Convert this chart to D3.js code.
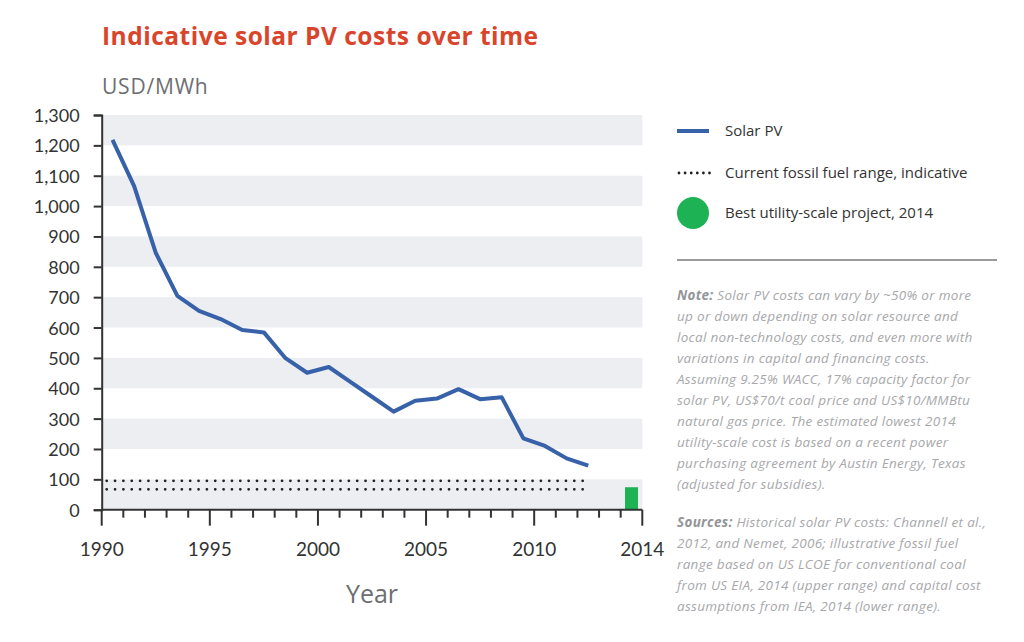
<!DOCTYPE html>
<html>
<head>
<meta charset="utf-8">
<script src="https://cdn.jsdelivr.net/npm/d3@7"></script>
<style>
  body { margin: 0; background: #fff; }
  svg { display: block; font-family: "Open Sans", Lato, sans-serif; }
</style>
</head>
<body>
<div id="chartContainer"></div>
<script>
// solar PV cost chart
const years = [1990, 1991, 1992, 1993, 1994, 1995, 1996, 1997, 1998, 1999, 2000, 2001,
               2002, 2003, 2004, 2005, 2006, 2007, 2008, 2009, 2010, 2011, 2012];
const solarCost = [1218, 1066, 846, 704, 655, 628, 592, 584, 499, 451, 470, 421,
                   372, 323, 359, 366, 397, 364, 370, 235, 210, 169, 145];
const fossilRange = [95, 67];          // upper, lower (USD/MWh)
const fossilYears = [1990, 2012];
const bestProject = { year: 2014, value: 74 };
const yTicks = [0, 100, 200, 300, 400, 500, 600, 700, 800, 900, 1000, 1100, 1200, 1300];
const xLabels = [[1990, "1990"], [1995, "1995"], [2000, "2000"], [2005, "2005"], [2010, "2010"], [2015, "2014"]];
const noteLines = [
  "Solar PV costs can vary by ~50% or more",
  "up or down depending on solar resource and",
  "local non-technology costs, and even more with",
  "variations in capital and financing costs.",
  "Assuming 9.25% WACC, 17% capacity factor for",
  "solar PV, US$70/t coal price and US$10/MMBtu",
  "natural gas price. The estimated lowest 2014",
  "utility-scale cost is based on a recent power",
  "purchasing agreement by Austin Energy, Texas",
  "(adjusted for subsidies)."
];
const sourceLines = [
  "Historical solar PV costs: Channell et al.,",
  "2012, and Nemet, 2006; illustrative fossil fuel",
  "range based on US LCOE for conventional coal",
  "from US EIA, 2014 (upper range) and capital cost",
  "assumptions from IEA, 2014 (lower range)."
];

const fullWidth = 1024, fullHeight = 642;
const plot = { left: 101.7, right: 642.3, top: 115, bottom: 509.7 };
const blue = "#3761a8", green = "#1db254", axisCol = "#333";

const svg = d3.select("#chartContainer").append("svg")
    .attr("width", fullWidth)
    .attr("height", fullHeight);

const x = d3.scaleLinear().domain([1990, 2015]).range([plot.left, plot.right]);
const y = d3.scaleLinear().domain([0, 1300]).range([plot.bottom, plot.top]);

// title
svg.append("text")
    .attr("x", 102).attr("y", 45)
    .attr("fill", "#d9452b")
    .style("font-size", "24.5px").style("font-weight", "bold")
    .style("letter-spacing", "0.5px")
    .text("Indicative solar PV costs over time");
svg.append("text")
    .attr("x", 102).attr("y", 94)
    .attr("fill", "#6d6e71")
    .style("font-size", "21px")
    .style("letter-spacing", "0.8px")
    .text("USD/MWh");

// grey bands
const bands = yTicks.filter(d => d < 1300 && (d / 100) % 2 === 0);
svg.append("g").selectAll("rect")
    .data(bands)
    .join("rect")
      .attr("x", x(1990))
      .attr("width", x(2015) - x(1990))
      .attr("y", d => y(d + 100))
      .attr("height", d => y(d) - y(d + 100))
      .attr("fill", "#eceef1");

// fossil fuel dotted lines
svg.append("g").selectAll("line")
    .data(fossilRange)
    .join("line")
      .attr("x1", x(fossilYears[0]) + 5)
      .attr("x2", x(fossilYears[1] + 0.5))
      .attr("y1", d => y(d)).attr("y2", d => y(d))
      .attr("stroke", "#222")
      .attr("stroke-width", 2.8)
      .attr("stroke-linecap", "round")
      .attr("stroke-dasharray", "0 8.35");

// best project bar
const barW = (x(1) - x(0)) * 0.6;
svg.append("rect")
    .attr("x", x(bestProject.year + 0.5) - barW / 2)
    .attr("width", barW)
    .attr("y", y(bestProject.value))
    .attr("height", y(0) - y(bestProject.value))
    .attr("fill", green);

// solar line
const line = d3.line()
    .x((d, i) => x(years[i] + 0.5))
    .y(d => y(d));
svg.append("path")
    .datum(solarCost)
    .attr("d", line)
    .attr("fill", "none")
    .attr("stroke", blue)
    .attr("stroke-width", 4)
    .attr("stroke-linejoin", "round");

// y axis
const yAxis = svg.append("g")
    .attr("transform", `translate(${plot.left},0)`)
    .call(d3.axisLeft(y).tickValues(yTicks).tickSize(8).tickPadding(14).tickFormat(d3.format(",")));
yAxis.select(".domain").attr("stroke", axisCol).attr("stroke-width", 2);
yAxis.selectAll(".tick line").attr("stroke", axisCol).attr("stroke-width", 2);
yAxis.selectAll(".tick text")
    .attr("fill", axisCol)
    .attr("dy", "0.36em")
    .style("font-size", "18px")
    .style("font-family", "Lato, sans-serif");

// x axis: minor and major ticks
const xAxis = svg.append("g")
    .attr("transform", `translate(0,${plot.bottom})`);
xAxis.append("line")
    .attr("x1", x(1990)).attr("x2", x(2015))
    .attr("stroke", axisCol).attr("stroke-width", 2);
xAxis.selectAll(".tk")
    .data(d3.range(1990, 2016))
    .join("line")
      .attr("class", "tk")
      .attr("x1", d => x(d)).attr("x2", d => x(d))
      .attr("y1", 0)
      .attr("y2", d => (d % 5 === 0) ? 16 : 8)
      .attr("stroke", axisCol).attr("stroke-width", 2);
xAxis.selectAll("text")
    .data(xLabels)
    .join("text")
      .attr("x", d => x(d[0]))
      .attr("y", 46)
      .attr("text-anchor", "middle")
      .attr("fill", axisCol)
      .style("font-size", "19px")
      .style("font-family", "Lato, sans-serif")
      .text(d => d[1]);

svg.append("text")
    .attr("x", 372).attr("y", 603)
    .attr("text-anchor", "middle")
    .attr("fill", "#6d6e71")
    .style("font-size", "25px")
    .text("Year");

// legend
const lg = svg.append("g");
lg.append("line")
    .attr("x1", 677).attr("x2", 709).attr("y1", 131).attr("y2", 131)
    .attr("stroke", blue).attr("stroke-width", 4);
lg.append("line")
    .attr("x1", 679).attr("x2", 710).attr("y1", 173).attr("y2", 173)
    .attr("stroke", "#222").attr("stroke-width", 2.8)
    .attr("stroke-linecap", "round").attr("stroke-dasharray", "0 6.1");
lg.append("circle")
    .attr("cx", 693).attr("cy", 213).attr("r", 16)
    .attr("fill", green);
lg.selectAll("text")
    .data([["Solar PV", 136], ["Current fossil fuel range, indicative", 178], ["Best utility-scale project, 2014", 218]])
    .join("text")
      .attr("x", 725).attr("y", d => d[1])
      .attr("fill", "#333")
      .style("font-size", "15px")
      .text(d => d[0]);
lg.append("line")
    .attr("x1", 677).attr("x2", 997).attr("y1", 260).attr("y2", 260)
    .attr("stroke", "#7a7a7d").attr("stroke-width", 1.5);

// notes
function block(lines, label, top) {
  const g = svg.append("g");
  lines.forEach((t, i) => {
    const tx = g.append("text")
      .attr("x", 677).attr("y", top + i * 21)
      .attr("fill", "#a7a8ab")
      .style("font-size", "13.5px")
      .style("letter-spacing", "0.3px")
      .style("font-style", "italic");
    if (i === 0) {
      tx.append("tspan").style("font-weight", "bold").attr("fill", "#939598").text(label + " ");
    }
    tx.append("tspan").text(t);
  });
}
block(noteLines, "Note:", 300);
block(sourceLines, "Sources:", 527);
</script>
</body>
</html>
